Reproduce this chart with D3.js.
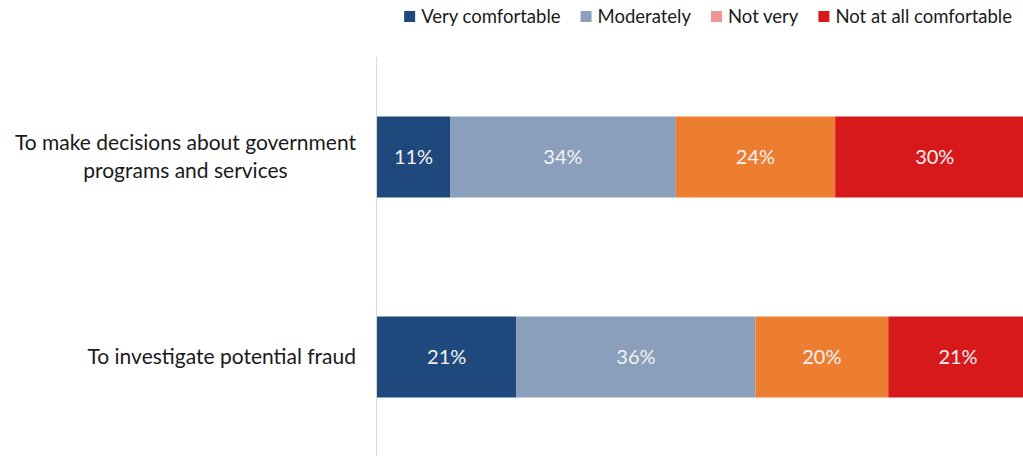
<!DOCTYPE html>
<html>
  <head>
    <meta charset="UTF-8" />
    <title>Comfort stacked bars</title>
    <style>
      body { margin: 0; background: #fff; }
      svg { font-family: Lato, "Open Sans", sans-serif; }
    </style>
  </head>
  <body>
    <svg width="1023" height="456"></svg>
    <script src="https://cdnjs.cloudflare.com/ajax/libs/d3/7.8.5/d3.min.js"></script>
    <script>
      const categories = [
        ['To make decisions about government', 'programs and services'],
        ['To investigate potential fraud'],
      ];
      const seriesNames = ['Very comfortable', 'Moderately', 'Not very', 'Not at all comfortable'];
      const veryComfortable = [11, 21];
      const moderately = [34, 36];
      const notVery = [24, 20];
      const notAtAll = [30, 21];

      const barColors = ['#1F497D', '#8A9FBB', '#ED7D31', '#D7191C'];
      const legendColors = ['#1F497D', '#8A9FBB', '#F09494', '#D7191C'];

      const svg = d3.select('svg');
      const width = +svg.attr('width');
      const height = +svg.attr('height');

      const rows = categories.map((c, i) => ({
        key: i,
        'Very comfortable': veryComfortable[i],
        'Moderately': moderately[i],
        'Not very': notVery[i],
        'Not at all comfortable': notAtAll[i],
      }));

      const stack = d3.stack().keys(seriesNames)(rows);

      const xScale = d3.scaleLinear().domain([0, 100]).range([377, 1041]);
      const yScale = d3
        .scaleBand()
        .domain(categories.map((c, i) => i))
        .range([57, 457])
        .paddingInner(0.595)
        .paddingOuter(0.2975);

      // axis line
      svg
        .append('line')
        .attr('x1', 376.5)
        .attr('x2', 376.5)
        .attr('y1', 57)
        .attr('y2', height)
        .attr('stroke', '#d9d9d9')
        .attr('stroke-width', 1);

      const layers = svg
        .selectAll('g.layer')
        .data(stack)
        .join('g')
        .attr('class', 'layer')
        .attr('fill', (d, i) => barColors[i]);

      layers
        .selectAll('rect')
        .data((d) => d)
        .join('rect')
        .attr('x', (d) => xScale(d[0]))
        .attr('y', (d, i) => yScale(i))
        .attr('width', (d) => xScale(d[1]) - xScale(d[0]))
        .attr('height', yScale.bandwidth());

      layers
        .selectAll('text')
        .data((d) => d)
        .join('text')
        .attr('x', (d) => (xScale(d[0]) + xScale(d[1])) / 2)
        .attr('y', (d, i) => yScale(i) + yScale.bandwidth() / 2)
        .attr('dy', '0.35em')
        .attr('text-anchor', 'middle')
        .attr('fill', '#f2f2f2')
        .attr('font-size', 20)
        .text((d) => d[1] - d[0] + '%');

      // category labels: block right-aligned, lines centred within block
      categories.forEach((lines, i) => {
        const g = svg.append('g');
        const texts = g
          .selectAll('text')
          .data(lines)
          .join('text')
          .attr('font-size', 21)
          .attr('fill', '#1a1a1a')
          .attr('text-anchor', 'middle')
          .text((d) => d);
        let maxW = 0;
        texts.each(function () {
          maxW = Math.max(maxW, this.getComputedTextLength());
        });
        const cx = 356 - maxW / 2;
        const cy = yScale(i) + yScale.bandwidth() / 2;
        const lh = 28;
        texts
          .attr('x', cx)
          .attr('y', (d, j) => cy + (j - (lines.length - 1) / 2) * lh)
          .attr('dy', '0.35em');
      });

      // legend, laid out right to left
      const legend = svg.append('g');
      const items = legend
        .selectAll('g')
        .data(seriesNames)
        .join('g');
      items
        .append('rect')
        .attr('width', 11)
        .attr('height', 11)
        .attr('y', 11)
        .attr('fill', (d, i) => legendColors[i]);
      items
        .append('text')
        .attr('x', 17)
        .attr('y', 17)
        .attr('dy', '0.35em')
        .attr('font-size', 18.5)
        .attr('fill', '#1a1a1a')
        .text((d) => d);
      let right = 1012;
      const nodes = items.nodes().reverse();
      nodes.forEach((n) => {
        const w = d3.select(n).select('text').node().getComputedTextLength();
        const left = right - w - 17;
        d3.select(n).attr('transform', `translate(${left},0)`);
        right = left - 20;
      });
    </script>
  </body>
</html>
